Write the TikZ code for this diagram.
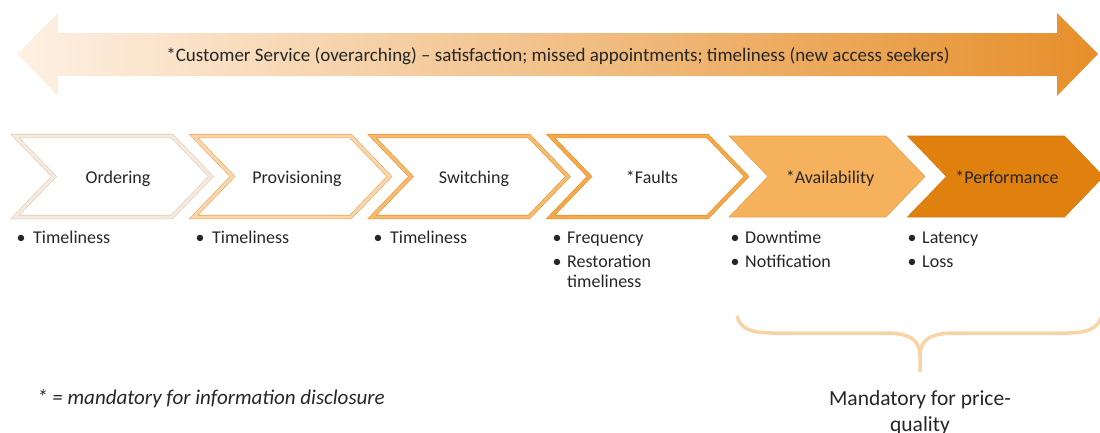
\documentclass[tikz,border=0pt]{standalone}
\usepackage{fontspec}
\setmainfont{Carlito}
\usetikzlibrary{calc}
\definecolor{txt}{HTML}{262626}
\definecolor{arrL}{HTML}{FDF1E4}
\definecolor{arrR}{HTML}{E68F2B}
\definecolor{eA}{HTML}{D9CBBE}\definecolor{bA}{HTML}{F7EADD}
\definecolor{eB}{HTML}{EBA557}\definecolor{bB}{HTML}{F9D6AC}
\definecolor{eC}{HTML}{E8922A}\definecolor{bC}{HTML}{F6BB72}
\definecolor{eD}{HTML}{E3922C}\definecolor{bD}{HTML}{F3A94B}
\definecolor{fE}{HTML}{F5B15C}\definecolor{eE}{HTML}{E9A04A}
\definecolor{fF}{HTML}{E0800E}\definecolor{eF}{HTML}{D47A10}
\definecolor{brc}{HTML}{F9D3A6}
\tikzset{
  lbl/.style={font=\fontsize{18}{21}\selectfont, text=txt, inner sep=0pt, anchor=base},
  itm/.style={font=\fontsize{18}{20}\selectfont, text=txt, inner sep=0pt, anchor=base west, align=left},
  bul/.style={font=\fontsize{18}{20}\selectfont, text=txt, inner sep=0pt, anchor=base},
  dbl/.style={line width=0.6pt, double distance=3pt, line join=miter},
}
\newcommand{\chev}[2]{% #1 left x, #2 options
  \draw[#2] (#1,136) -- ++(157,0) -- ++(39,40.5) -- ++(-39,40.5) -- (#1,217) -- ++(39,-40.5) -- cycle;}
\begin{document}
\begin{tikzpicture}[x=1pt,y=-1pt]
\useasboundingbox (0,0) rectangle (1100,432);
% top double arrow
\shade[left color=arrL, right color=arrR]
  (17,54) -- (58,13) -- (58,33) -- (1057,33) -- (1057,13) -- (1098,54)
  -- (1057,96) -- (1057,76) -- (58,76) -- (58,96) -- cycle;
\node[font=\fontsize{19}{22}\selectfont, text=txt, inner sep=0pt, anchor=base] (cs) at (558,61) {*Customer Service (overarching) – satisfaction; missed appointments; timeliness (new access seekers)};
% chevrons
\chev{15}{dbl, draw=eA, double=bA, fill=white}
\chev{193.5}{dbl, draw=eB, double=bB, fill=white}
\chev{372}{dbl, draw=eC, double=bC, fill=white}
\chev{550.5}{dbl, draw=eD, double=bD, fill=white}
\chev{729}{fill=fE, draw=eE, line width=0.6pt}
\chev{907.5}{fill=fF, draw=eF, line width=0.6pt}
\node[lbl] (c1) at (118,183) {Ordering};
\node[lbl] (c2) at (297,183) {Provisioning};
\node[lbl] (c3) at (474,183) {Switching};
\node[lbl] (c4) at (652,183) {*Faults};
\node[lbl] (c5) at (830,183) {*Availability};
\node[lbl] (c6) at (1007,183) {*Performance};
% bullets
\node[bul] (b1) at (21,243) {\textbullet};
\node[itm] (t1) at (33,243) {Timeliness};
\node[bul] (b2) at (200,243) {\textbullet};
\node[itm] (t2) at (212,243) {Timeliness};
\node[bul] (b3) at (378,243) {\textbullet};
\node[itm] (t3) at (390,243) {Timeliness};
\node[bul] (b4a) at (557,243) {\textbullet};
\node[itm] (t4a) at (567,243) {Frequency};
\node[bul] (b4b) at (557,267) {\textbullet};
\node[itm] (t4b) at (567,287) {Restoration\\timeliness};
\node[bul] (b5a) at (735,243) {\textbullet};
\node[itm] (t5a) at (745,243) {Downtime};
\node[bul] (b5b) at (735,267) {\textbullet};
\node[itm] (t5b) at (745,267) {Notification};
\node[bul] (b6a) at (912,243) {\textbullet};
\node[itm] (t6a) at (922,243) {Latency};
\node[bul] (b6b) at (912,267) {\textbullet};
\node[itm] (t6b) at (922,267) {Loss};
% footnote
\node[font=\fontsize{21}{24}\selectfont\itshape, text=txt, inner sep=0pt, anchor=base west] (fn) at (37,404) {* = mandatory for information disclosure};
% brace
\draw[brc, line width=3.5pt, line cap=butt]
  (737,316) .. controls (740,329) and (752,333) .. (772,333) -- (885,333)
  .. controls (910,333) and (920,340) .. (920,356) -- (920,372);
\draw[brc, line width=3.5pt]
  (920,356) .. controls (920,340) and (930,333) .. (955,333) -- (1068,333)
  .. controls (1088,333) and (1097,328) .. (1101,318);
\node[font=\fontsize{21.5}{26}\selectfont, text=txt, inner sep=0pt, align=center, anchor=base] (mq) at (920,431) {Mandatory for price-\\quality};
\end{tikzpicture}
\end{document}
